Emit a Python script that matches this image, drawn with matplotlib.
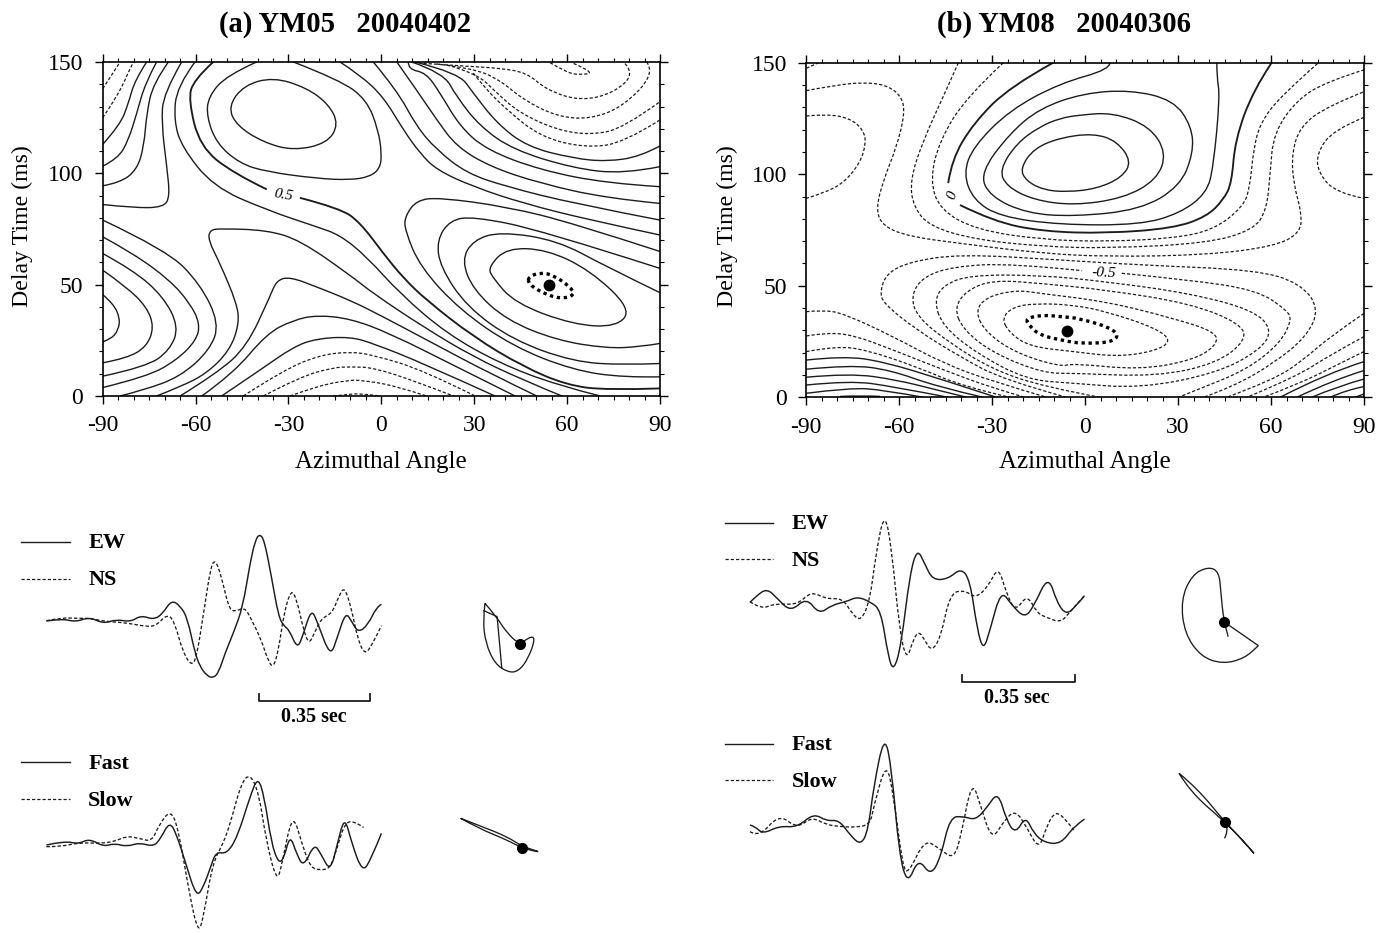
import matplotlib
matplotlib.use('Agg')
import matplotlib.pyplot as plt
from matplotlib.patches import PathPatch
from matplotlib.path import Path
from matplotlib.ticker import MultipleLocator

plt.rcParams['font.family'] = ['Liberation Serif', 'DejaVu Serif']
plt.rcParams['axes.unicode_minus'] = False

FIG_W, FIG_H = 1391, 932

# ---- panel (a) contours, (azimuth, delay) ----
a_solid = [
    [(-90, 113), (-84.4, 121.7), (-81.7, 131.4), (-79.6, 141.9), (-75.8, 150)],
    [(-90, 103.2), (-85, 106.7), (-81.7, 114.9), (-79, 126.9), (-76.3, 140.4), (-72.6, 150)],
    [(-90, 94.4), (-84.4, 95.8), (-79, 101.5), (-76.7, 111.9), (-75.8, 126.9), (-73.7, 140.4), (-68.8, 150)],
    [(-90, 86), (-80.1, 84.5), (-70.4, 84.7), (-68.3, 89.5), (-69.3, 103), (-71, 122.4), (-70.4, 135.9), (-64.5, 150)],
    [(-60.2, 150), (-66.1, 138.9), (-67, 123.9), (-64.5, 111.9), (-54.3, 94), (-37, 83.5), (-20.9, 76), (-13.35, 72.3),
     (-4.7, 62.5), (6, 46), (21.1, 28), (38.3, 14.6), (56.7, 4.9), (70.7, 0)],
    [(-40.3, 150), (-50, 144), (-55.9, 134.4), (-56.4, 125.4), (-53.2, 113.4), (-45.7, 104.4), (-37, 100.7),
     (-20.9, 97.7), (-10.1, 97), (-3.7, 98.5), (-0.4, 102.3), (0.1, 109), (-1, 119.5), (-4.7, 133), (-13.35, 141.9),
     (-28.4, 150)],
    [(-13.35, 150), (-6.9, 144.2), (0.65, 134.4), (7.1, 119.5), (12.5, 109), (17.9, 101.5), (29.7, 94), (45.9, 86.5),
     (67.4, 79), (90, 72.3)],
    [(-2.6, 150), (5, 137.4), (11.4, 121), (17.9, 110.5), (27.6, 100), (40.5, 94), (62, 86.5), (90, 79)],
    [(5, 150), (11.4, 137.4), (17.9, 124), (24.3, 112), (35.1, 103), (51.3, 95.5), (72.8, 88.8), (90, 86.5)],
    [(8.7, 150), (8.7, 146.7), (14.4, 145.2), (19, 136), (25.4, 121), (34, 110.5), (51.3, 101.5), (72.8, 95.5), (90, 94)],
    [(9.8, 150), (20, 145.2), (24.3, 134.4), (31.9, 121), (42.7, 110.5), (62, 102.3), (78.2, 99.7), (90, 103)],
    [(10.9, 150), (24.9, 145.2), (29.7, 136), (37.3, 122.5), (47, 112), (62, 106.7), (72.8, 105.3), (83.6, 107.5), (90, 112.3)],
    [(90, 64.9), (62, 77.6), (40.5, 85), (18.9, 89.1), (11.4, 88), (7.6, 80.6), (7.6, 74.5), (12.5, 58), (25.4, 38.6),
     (42.7, 22.1), (62, 11.6), (78.2, 8.3), (90, 8.6)],
    [(90, 57.3), (51.3, 74.6), (29.7, 80.6), (22.2, 79), (17.9, 70), (19, 58), (27.6, 40), (42.7, 25), (62, 15.4),
     (78.2, 13.9), (90, 14.6)],
    [(90, 46.4), (72.8, 58), (56.7, 70), (38.3, 73.8), (29.7, 70), (25.9, 61), (29.7, 47.6), (40.5, 34), (56.7, 25),
     (72.8, 21.4), (83.6, 22.1), (90, 23.6)],
    [(-90, 56.5), (-82.3, 49), (-75.8, 40), (-73.4, 31), (-75.8, 22.1), (-82.3, 16.9), (-90, 14.9)],
    [(-90, 45.5), (-86.6, 41.6), (-84.4, 34.8), (-85, 29.6), (-87.1, 25.8), (-90, 24.3)],
    [(-90, 64), (-80.1, 56.5), (-70.4, 44.6), (-65.4, 31), (-68.3, 20.6), (-75.8, 13.1), (-90, 8.9)],
    [(-90, 71.5), (-80.1, 64), (-68.3, 52), (-61.8, 41.6), (-58.6, 32.6), (-59.7, 25.1), (-66.1, 16.1), (-75.8, 8.6), (-90, 3.8)],
    [(-90, 79), (-69.3, 65.5), (-58.6, 50.5), (-52.3, 32.6), (-55.4, 20.6), (-65, 8.6), (-76.9, 2.6), (-84.4, 0)],
    [(-72.6, 0), (-65, 4.1), (-56.4, 10.1), (-48.9, 20.6), (-45.9, 32.6), (-46.7, 41.6), (-52.1, 59.5), (-55.9, 70),
     (-55.4, 74.5), (-52.1, 75.2), (-37, 74.5), (-26.3, 70), (-10.1, 54.3), (-2.6, 46), (13.6, 31), (29.7, 17.6),
     (45.9, 7.1), (58.3, 0)],
    [(-65, 0), (-53.2, 10.1), (-43.5, 22.1), (-36, 44.6), (-33.8, 52), (-29.5, 53.5), (-20.9, 49), (-10.1, 43),
     (-0.4, 36.3), (16.8, 23.6), (35.1, 10.1), (50.2, 0)],
    [(-58, 0), (-47.8, 10.1), (-37, 28.1), (-28.4, 34.1), (-20.9, 36.3), (-10.1, 34.8), (2.8, 28.1), (24.3, 13.1), (43.2, 0)],
    [(-51.6, 0), (-39.2, 11.6), (-28.4, 22.1), (-20.9, 25.8), (-10.1, 26.6), (-2.6, 23.6), (13.6, 14.6), (36.7, 0)],
]
# the 0.5 contour is split where its label sits
a_label_line = [
    [(-54.3, 150), (-60.7, 141.9), (-62.3, 132.9), (-58.6, 112), (-47.8, 100), (-37, 92.8)],
    [(-26.3, 89), (-13.35, 84.3), (-6.9, 78), (0.65, 64), (7.1, 53), (14.6, 43), (29.7, 26.6), (45.9, 13.1), (59.9, 4.9),
     (72.8, 2.6), (90, 3.4)],
]
a_closed = [
    [(-49.5, 129.9), (-44.5, 139.5), (-34.9, 143.2), (-24.1, 138.4), (-17, 131), (-13.8, 122), (-17.5, 113.5),
     (-28.4, 110.2), (-38.1, 113.9), (-46.7, 121.4)],
    [(34.6, 58), (40.5, 66.5), (53.4, 65.8), (67.4, 56.5), (80.8, 39), (76, 31), (62, 32), (43.2, 41.6), (35.7, 53.5)],
]
a_dashed = [
    [(-90, 138), (-85, 148.6), (-84.4, 150)],
    [(-90, 125), (-85, 135), (-80.7, 148.6), (-80, 150)],
    [(13.6, 149.4), (29.7, 147.9), (38.3, 147.2), (47, 145.2), (53.4, 137.4), (64.2, 132.5), (75, 136), (82, 145), (78.2, 150)],
    [(17.9, 149.1), (29.7, 147.2), (38.3, 141.9), (45.9, 133), (56.7, 125.5), (67.4, 124.3), (78.2, 130), (88.4, 145), (85.7, 150)],
    [(21.1, 148.7), (30.8, 145), (37.3, 136), (44.8, 127), (56.7, 119.5), (67.4, 117.2), (78.2, 120.2), (90, 132.2)],
    [(29.7, 145), (33, 139), (40.5, 128.5), (51.3, 116.5), (65.3, 111.5), (78.2, 113.5), (90, 124)],
    [(54.5, 149.7), (59.9, 145.2), (64.2, 144.2), (69, 145.2), (62, 149.4)],
    [(-44.6, 0), (-31.7, 11.6), (-19.8, 18.4), (-10.1, 19.9), (-2.6, 18.4), (13.6, 11.6), (30.3, 0)],
    [(-38.1, 0), (-26.3, 8.6), (-15.5, 12.8), (-10.1, 13.1), (-2.6, 12.8), (11.4, 6.4), (23.3, 0)],
    [(-29.5, 0), (-19.8, 4.9), (-10.1, 7.1), (-6.9, 7.1), (3.9, 4.9), (14.6, 0)],
    [(-15.5, 0), (-10.1, 0.8), (-6.9, 1.1), (-0.4, 0)],
]
a_best_region = [(47.5, 53.5), (51.3, 55.5), (55.6, 54.3), (61, 49), (62.6, 45.3), (57.7, 43.5), (51.3, 46.8), (47.5, 50.5)]
a_best = (54, 49.8)

# ---- panel (b) contours ----
b_solid = [
    [(8, 150), (8, 147), (-8.1, 140.8), (-24.3, 128.8), (-36.1, 112.4), (-39.3, 100.4), (-36.1, 88.5), (-27.5, 81),
     (-8.1, 77.3), (17.7, 77.3), (30.6, 82.5), (39.2, 91.5), (41.4, 103.4), (43.5, 134.8), (42.5, 143.8), (42.5, 150)],
    [(-90, 16.7), (-78, 18.5), (-65.1, 16), (-45.8, 7.8), (-28.6, 0)],
    [(-90, 12.6), (-75.9, 14.5), (-63, 12.3), (-47.9, 4.8), (-32.9, 0)],
    [(-90, 9), (-75.9, 10.8), (-60.8, 7.8), (-47.9, 3.3), (-38.2, 0)],
    [(-90, 5.5), (-75.9, 7.5), (-61.9, 4.8), (-44.2, 0)],
    [(-90, 1.8), (-75.9, 4.3), (-65.1, 3.3), (-52.2, 0)],
    [(-79.1, 0.4), (-72.7, 0.8), (-66.2, 0.4)],
    [(90, 16), (78, 10.8), (62.9, 0)],
    [(90, 12), (80.1, 7.8), (68.3, 0)],
    [(90, 8.2), (81.2, 4.8), (73.1, 0)],
    [(90, 4.8), (84.4, 3.3), (79.1, 0)],
    [(90, 1.5), (87.1, 0)],
]
# the 0 contour is split where its label sits
b_label_line = [
    [(-10.3, 150), (-24.3, 139.3), (-36.1, 122.8), (-43.1, 106.4), (-44.2, 96)],
    [(-40.4, 86.2), (-29.6, 78.8), (-13.5, 74.3), (7, 73.5), (28.5, 75.8), (39.2, 81), (44.6, 88.5), (47.3, 96),
     (48.4, 115.4), (54.3, 137.8), (60.2, 150)],
]
b_closed = [
    [(-8.1, 116.4), (2.7, 118.3), (10.2, 114.9), (15, 105.7), (11.8, 98.5), (3.7, 93.5), (-6, 92), (-13.5, 93),
     (-19, 97), (-21, 102.5), (-16.6, 111.5)],
    [(-8.1, 125.1), (-1.6, 126.6), (9.1, 127.6), (20.9, 121.4), (26.3, 109.4), (23.1, 97.5), (12.3, 89.2), (-3.8, 86),
     (-16.7, 88.5), (-25.3, 94.5), (-27.7, 101.9), (-22.1, 113.9), (-14.6, 121.4)],
    [(-0.6, 136.3), (14.5, 137.8), (28.5, 133.3), (34.4, 121.4), (34.9, 109.4), (30.6, 94.5), (17.7, 84), (-3.8, 81),
     (-18.9, 82.5), (-30.7, 90), (-34, 100.4), (-24.3, 118.4), (-14.6, 129.6)],
]
b_dashed = [
    [(-90, 147.5), (-88.8, 148.2), (-86.1, 150)],
    [(-26.4, 150), (-38.2, 134.8), (-46.9, 115.4), (-50.1, 97.5), (-46.9, 84), (-35, 75), (-13.5, 70.6), (7, 69.8),
     (28.5, 71.3), (41.4, 75), (51.1, 85.5), (53.2, 94.5), (54.3, 110.9), (56.5, 122.9), (62.9, 134.8), (75.3, 150)],
    [(-40.9, 150), (-45.8, 134.8), (-52.2, 115.4), (-56.5, 97.5), (-55.5, 85.5), (-50.1, 76.5), (-35, 70.6), (-13.5, 67.6),
     (7, 66.8), (39.2, 69), (54.3, 75), (58.6, 84), (59.7, 100.4), (60.8, 118.4), (68.3, 133.3), (77.9, 141.5), (90, 146.8)],
    [(-90, 137.5), (-80.2, 140), (-71.6, 141.2), (-64, 140), (-59.2, 134.8), (-58.2, 127.3), (-60.8, 112.4), (-65.1, 97.5),
     (-67.6, 84), (-65.1, 76.5), (-56.5, 72), (-40.4, 69), (-14.6, 64.6), (7, 63), (39.2, 63.8), (60.8, 67.6), (69.4, 73.5),
     (69.9, 82.5), (67.2, 96), (66.7, 109.4), (69.4, 121.4), (77.9, 130.3), (90, 137)],
    [(-90, 126.1), (-83.4, 127), (-75.9, 125.1), (-71.6, 119.9), (-70.7, 113.9), (-72.7, 104.9), (-78, 96), (-84.5, 91.5), (-90, 89.2)],
    [(90, 125.5), (80.1, 119.9), (74.7, 109.4), (75.3, 100.4), (81.2, 91.5), (90, 89.2)],
    [(-90, 38.4), (-84.5, 39.1), (-78, 37.6), (-61.9, 27.2), (-45.8, 15.2), (-29.6, 7), (-12.4, 0)],
    [(-90, 27.5), (-83.4, 29), (-74.8, 27.9), (-61.9, 21.2), (-45.8, 12.3), (-29.6, 4), (-19.4, 0)],
    [(-90, 20.5), (-80.2, 23), (-70.5, 21.2), (-54.4, 13.7), (-39.3, 4.8), (-24.3, 0)],
    [(-6, 0), (-26.4, 7.8), (-40.4, 18.2), (-54.4, 30.2), (-65.1, 42.1), (-66.2, 47.4), (-64.1, 55.6), (-56.5, 60.8),
     (-40.4, 64.2), (-8.1, 61.6), (17.7, 59.3), (55.4, 57.1), (69.4, 51.1), (75.6, 39.9), (71.5, 27.2), (60.8, 15.2),
     (47.8, 4.8), (38.2, 0)],
    [(4.8, 0), (-13.5, 4.8), (-29.6, 12.3), (-43.6, 24.2), (-54.4, 36.2), (-56.2, 45.9), (-52.2, 54.1), (-42.6, 58.6),
     (-24.3, 60.1), (-1.1, 56.8)],
    [(11.8, 55.6), (33.9, 52.6), (55.4, 48.1), (65.1, 39.1), (66.7, 34.7), (62.9, 24.2), (52.1, 12.3), (36, 3.3), (30.1, 0)],
    [(90, 37.6), (79, 27.2), (70.4, 16.7), (60.8, 7.8), (45.7, 0)],
    [(90, 27.2), (79, 19), (68.3, 9.3), (52.2, 0)],
    [(90, 20.5), (80.1, 13.7), (69.4, 6.3), (57.5, 0)],
]
b_closed_dashed = [
    [(-48.8, 42.9), (-45.8, 50.3), (-37.2, 54.8), (-14.6, 54.8), (7, 51.8), (33.9, 46.6), (54.3, 39.1), (60.5, 30.2),
     (56.5, 21.2), (42.5, 10.8), (17.7, 4), (-3.8, 6.3), (-18.9, 7.8), (-35, 19.7), (-45.8, 31.7)],
    [(-42.3, 39.9), (-38.2, 48.1), (-29.6, 52.6), (-14.6, 51.1), (7, 48.1), (33.9, 42.1), (50, 33.2), (52.1, 25.7),
     (42.5, 15.2), (23.1, 9.3), (-3.8, 10.8), (-13.5, 10.8), (-29.6, 19.7), (-39.3, 30.2)],
    [(-35.6, 38.4), (-31.8, 45.1), (-22.1, 48.1), (-14.6, 46.6), (7, 42.9), (28.5, 35.4), (42.4, 29.2), (42.4, 23.2),
     (34.9, 16.7), (17.7, 12.3), (-3.8, 15.2), (-8.1, 13.7), (-22.1, 19.7), (-31.8, 28.7)],
    [(-27, 35.4), (-23.2, 40.6), (-15.7, 42.1), (-3.8, 41.4), (7, 38.4), (23.1, 30.9), (28, 25), (22, 20.5), (10.2, 18.2),
     (-3.8, 20.5), (-17.8, 22.7), (-24.3, 28.7)],
]
b_best_region = [(-19.4, 35.4), (-13.5, 36.9), (-8.1, 36.2), (-1.6, 35.4), (10.2, 30.2), (10.2, 25), (-0.6, 23.9),
                 (-8.1, 25.7), (-14.6, 27.9), (-17.8, 31.7)]
b_best = (-5.9, 29.9)

# ---- waveforms, (time, amplitude) in digitising units, amplitude grows downward ----
ew_a = [(130, 303), (175, 296), (212, 306), (250, 291), (290, 311), (325, 298), (365, 306), (395, 286), (430, 299), (455, 282),
        (480, 240), (505, 258), (525, 295), (545, 395), (560, 440), (580, 468), (597, 474), (612, 458), (630, 400), (655, 335),
        (680, 260), (700, 130), (715, 60), (727, 42), (740, 60), (760, 170), (780, 290), (795, 318), (810, 330), (833, 388),
        (850, 340), (872, 266), (890, 310), (925, 412), (945, 350), (968, 276), (985, 305), (1003, 338), (1030, 315), (1055, 260), (1068, 253)]
ns_a = [(130, 302), (175, 293), (215, 295), (250, 295), (300, 305), (350, 308), (400, 318), (435, 320), (470, 280), (490, 310),
        (510, 390), (535, 438), (550, 415), (570, 280), (590, 140), (603, 118), (620, 170), (640, 262), (655, 276), (685, 262),
        (700, 290), (730, 355), (750, 420), (765, 445), (780, 390), (795, 280), (815, 208), (830, 235), (850, 330), (865, 373),
        (880, 340), (900, 295), (930, 280), (950, 225), (965, 200), (985, 270), (1000, 350), (1020, 404), (1040, 380), (1068, 317)]
fast_a = [(130, 345), (180, 333), (220, 342), (250, 326), (290, 350), (320, 340), (355, 350), (390, 338), (430, 350), (450, 325),
          (475, 274), (495, 315), (520, 400), (550, 502), (570, 470), (590, 410), (605, 365), (635, 372), (665, 320), (700, 200),
          (722, 140), (740, 200), (760, 340), (780, 400), (795, 385), (812, 314), (830, 370), (850, 412), (880, 340), (900, 375),
          (925, 425), (945, 340), (965, 258), (985, 340), (1015, 428), (1040, 385), (1068, 310)]
slow_a = [(130, 350), (170, 350), (220, 338), (280, 340), (320, 335), (355, 318), (390, 325), (425, 335), (445, 285), (478, 238),
          (500, 300), (530, 490), (555, 612), (570, 560), (595, 400), (625, 340), (645, 280), (675, 160), (700, 130), (725, 190),
          (745, 330), (775, 458), (790, 400), (810, 290), (825, 265), (845, 340), (870, 415), (900, 420), (925, 415), (945, 350),
          (965, 280), (990, 272), (1018, 292)]
ew_b = [(110, 307), (130, 285), (157, 266), (185, 295), (222, 336), (265, 292), (300, 343), (335, 315), (375, 305), (405, 290),
        (440, 305), (470, 330), (490, 470), (505, 514), (525, 440), (550, 220), (570, 146), (590, 190), (612, 240), (655, 237),
        (690, 204), (715, 240), (735, 390), (752, 452), (770, 390), (800, 270), (830, 315), (865, 354), (890, 320), (930, 225),
        (955, 310), (980, 344), (1005, 320), (1030, 287)]
ns_b = [(110, 305), (140, 328), (180, 310), (240, 315), (278, 274), (320, 297), (365, 295), (390, 340), (415, 365), (440, 300),
        (455, 170), (480, 30), (500, 150), (520, 380), (540, 485), (560, 415), (575, 394), (590, 420), (610, 455), (635, 410),
        (660, 280), (700, 270), (730, 295), (765, 260), (793, 198), (815, 280), (840, 335), (872, 283), (900, 340), (925, 352),
        (965, 368), (990, 335), (1030, 287)]
fast_b = [(110, 315), (125, 320), (145, 342), (190, 318), (240, 322), (285, 280), (320, 303), (355, 300), (385, 345), (415, 376),
          (435, 330), (450, 200), (480, 40), (500, 150), (520, 400), (543, 495), (573, 414), (607, 468), (635, 410), (660, 290),
          (700, 290), (730, 300), (760, 265), (792, 214), (815, 300), (840, 342), (868, 288), (890, 340), (920, 368), (965, 372),
          (1000, 320), (1030, 297)]
slow_b = [(110, 335), (135, 352), (190, 282), (240, 326), (280, 290), (320, 315), (365, 320), (395, 322), (440, 315), (450, 260),
          (485, 122), (505, 230), (530, 440), (545, 462), (590, 358), (630, 385), (670, 418), (690, 350), (720, 178), (745, 260),
          (775, 362), (810, 300), (840, 270), (870, 320), (905, 390), (925, 320), (950, 272), (980, 300), (1000, 330)]

# ---- particle motion ----
motion_a1 = [(1358, 250), (1352, 300), (1360, 370), (1385, 430), (1420, 456), (1450, 456), (1480, 415), (1500, 350), (1478, 353),
             (1457, 375), (1420, 340), (1390, 290), (1358, 250)]
motion_a1_inner = [(1355, 272), (1392, 290), (1405, 445)]
motion_a2 = [(1290, 265), (1340, 295), (1420, 330), (1463, 355), (1525, 370), (1463, 350), (1420, 320), (1350, 290), (1290, 265)]
motion_b1 = [(1425, 410), (1413, 365), (1405, 280), (1400, 215), (1370, 200), (1325, 225), (1295, 300), (1305, 400), (1350, 470),
             (1410, 492), (1470, 475), (1508, 437), (1508, 437), (1413, 365)]
motion_b2 = [(1290, 160), (1320, 215), (1415, 305), (1460, 355), (1508, 415), (1460, 355), (1415, 305), (1340, 205), (1290, 160)]
motion_b2_tail = [(1420, 310), (1425, 335), (1415, 355)]
motion_dots = {'a1': (1457, 373), 'a2': (1463, 355), 'b1': (1413, 365), 'b2': (1415, 307)}

az_ticks = [-90, -60, -30, 0, 30, 60, 90]
delay_ticks = [0, 50, 100, 150]


def smooth_path(points, closed=False):
    """
    Builds a quadratic curve with the read points as control points.
    :param points: [(x, y)]
    :param closed: Should the curve be closed
    :return: matplotlib Path
    """
    mid = lambda p, q: ((p[0] + q[0]) / 2, (p[1] + q[1]) / 2)
    if closed:
        verts = [mid(points[-1], points[0])]
        codes = [Path.MOVETO]
        for i, p in enumerate(points):
            verts += [p, mid(p, points[(i + 1) % len(points)])]
            codes += [Path.CURVE3, Path.CURVE3]
        return Path(verts, codes)
    verts = [points[0]]
    codes = [Path.MOVETO]
    if len(points) == 2:
        return Path([points[0], points[1]], [Path.MOVETO, Path.LINETO])
    for i in range(1, len(points) - 2):
        verts += [points[i], mid(points[i], points[i + 1])]
        codes += [Path.CURVE3, Path.CURVE3]
    verts += [points[-2], points[-1]]
    codes += [Path.CURVE3, Path.CURVE3]
    return Path(verts, codes)


def draw_curve(ax, points, closed=False, lw=1.0, dashes=None, color='#1c1c1c'):
    patch = PathPatch(smooth_path(points, closed), fill=False, lw=lw, edgecolor=color, capstyle='butt')
    if dashes:
        patch.set_linestyle((0, dashes))
    ax.add_patch(patch)


def px_axes(fig, left, top, width, height):
    return fig.add_axes([left / FIG_W, 1 - (top + height) / FIG_H, width / FIG_W, height / FIG_H])


def setup_contour_axes(ax):
    ax.set_xlim(-90, 90)
    ax.set_ylim(0, 150)
    ax.set_xticks(az_ticks)
    ax.set_yticks(delay_ticks)
    ax.xaxis.set_minor_locator(MultipleLocator(5))
    ax.yaxis.set_minor_locator(MultipleLocator(10))
    ax.tick_params(which='major', direction='out', length=6, width=1, top=True, right=True, labelsize=17, pad=8)
    ax.tick_params(which='minor', direction='out', length=3, width=0.8, top=True, right=True)
    for spine in ax.spines.values():
        spine.set_linewidth(1.2)
        spine.set_zorder(5)


DASH = (2.6, 1.6)


def draw_contours(ax, solid, labelled, closed, dashed, region, best):
    for line in solid:
        draw_curve(ax, line, lw=1.0)
    for line in labelled:
        draw_curve(ax, line, lw=1.35)
    for line in closed:
        draw_curve(ax, line, closed=True, lw=1.0)
    for line in dashed:
        draw_curve(ax, line, lw=0.9, dashes=DASH)
    draw_curve(ax, region, closed=True, lw=2.4, dashes=(1.0, 1.1), color='black')
    ax.plot(best[0], best[1], 'o', color='black', ms=7.5, zorder=6)


def draw_wave_panel(fig, region, xscale, solid, dashed, names, legend, motions, straight, dot, bar=None):
    left, top, width, height = region
    ax = px_axes(fig, left, top, width, height)
    # the traces were read at xscale units per pixel across and 3 units per pixel down
    ax.set_xlim(0, width * xscale)
    ax.set_ylim(height * 3, 0)
    ax.axis('off')
    ax.patch.set_alpha(0)
    x0, x1, text_x = legend['x']
    ax.plot([x0, x1], [legend['y'][0]] * 2, color='#1c1c1c', lw=1.0)
    ax.plot([x0, x1], [legend['y'][1]] * 2, color='#1c1c1c', lw=0.9, dashes=DASH)
    for name, y in zip(names, legend['y']):
        ax.text(text_x, y + 5, name, fontsize=16, fontweight='bold', va='center', ha='left')
    draw_curve(ax, solid, lw=1.05)
    draw_curve(ax, dashed, lw=0.95, dashes=DASH)
    for line in motions:
        draw_curve(ax, line, lw=0.95)
    if straight:
        ax.plot([p[0] for p in straight], [p[1] for p in straight], color='#1c1c1c', lw=0.95)
    ax.plot(dot[0], dot[1], 'o', color='black', ms=7)
    if bar:
        x_a, x_b, y_low, y_high = bar
        ax.plot([x_a, x_a, x_b, x_b], [y_high, y_low, y_low, y_high], color='#1c1c1c', lw=1.3)
        ax.text((x_a + x_b) / 2 - 3, y_low + 50, '0.35 sec', fontsize=14.4, fontweight='bold', ha='center', va='center')


fig = plt.figure(figsize=(FIG_W / 100, FIG_H / 100), dpi=100, facecolor='white')

ax_a = px_axes(fig, 102.7, 62, 557.3, 334)
setup_contour_axes(ax_a)
draw_contours(ax_a, a_solid, a_label_line, a_closed, a_dashed, a_best_region, a_best)
ax_a.text(-31.7, 90.2, '0.5', fontsize=11, style='italic', rotation=-10, ha='center', va='center')

ax_b = px_axes(fig, 806.3, 62.7, 557.7, 334.6)
setup_contour_axes(ax_b)
draw_contours(ax_b, b_solid, b_label_line, b_closed, b_dashed, b_best_region, b_best)
for line in b_closed_dashed:
    draw_curve(ax_b, line, closed=True, lw=0.9, dashes=DASH)
ax_b.text(-42.8, 90.7, '0', fontsize=11, style='italic', rotation=70, ha='center', va='center')
ax_b.text(5.9, 55.6, '-0.5', fontsize=11, style='italic', rotation=-3, ha='center', va='center')

for cx, label in ((345, '(a) YM05   20040402'), (1064, '(b) YM08   20040306')):
    fig.text(cx / FIG_W, 1 - 24 / FIG_H, label, fontsize=20.6, fontweight='bold', ha='center', va='center')
for cx in (381, 1085):
    fig.text(cx / FIG_W, 1 - 462 / FIG_H, 'Azimuthal Angle', fontsize=18, ha='center', va='center')
for cx in (22, 727):
    fig.text(cx / FIG_W, 1 - 226 / FIG_H, 'Delay Time (ms)', fontsize=17.2, rotation=90, ha='center', va='center')

draw_wave_panel(fig, (0, 520, 560, 210), 2.8, ew_a, ns_a, ('EW', 'NS'), {'x': (60, 195, 247), 'y': (65, 176)},
                [motion_a1], motion_a1_inner, motion_dots['a1'], bar=(725, 1037, 542, 522))
draw_wave_panel(fig, (0, 730, 560, 200), 2.8, fast_a, slow_a, ('Fast', 'Slow'), {'x': (60, 195, 247), 'y': (97, 208)},
                [motion_a2], None, motion_dots['a2'])
draw_wave_panel(fig, (710, 500, 570, 210), 2.75, ew_b, ns_b, ('EW', 'NS'), {'x': (40, 172, 225), 'y': (68, 178)},
                [motion_b1], None, motion_dots['b1'], bar=(693, 1003, 545, 525))
draw_wave_panel(fig, (710, 720, 570, 190), 2.75, fast_b, slow_b, ('Fast', 'Slow'), {'x': (40, 172, 225), 'y': (71, 180)},
                [motion_b2, motion_b2_tail], None, motion_dots['b2'])

fig.savefig('out.png', dpi=100)
